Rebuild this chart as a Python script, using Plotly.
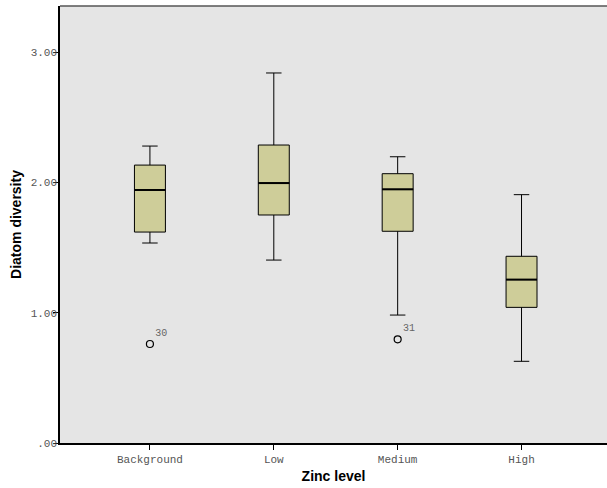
import plotly.graph_objects as go

categories = ["Background", "Low", "Medium", "High"]
q1 = [1.619, 1.750, 1.625, 1.041]
median = [1.942, 1.995, 1.947, 1.254]
q3 = [2.133, 2.287, 2.067, 1.433]
lower_whisker = [1.535, 1.404, 0.982, 0.627]
upper_whisker = [2.279, 2.840, 2.197, 1.906]

outlier_cats = ["Background", "Medium"]
outlier_vals = [0.760, 0.796]
outlier_labels = ["30", "31"]

ytick_vals = [0, 1, 2, 3]
ytick_text = [".00", "1.00", "2.00", "3.00"]

box_width = 0.25
xpos = list(range(len(categories)))
out_x = [categories.index(c) for c in outlier_cats]

fig = go.Figure()
fig.add_trace(go.Box(
    x=xpos, q1=q1, median=median, q3=q3,
    lowerfence=lower_whisker, upperfence=upper_whisker,
    fillcolor="#CECD99", line=dict(color="black", width=1),
    width=box_width, whiskerwidth=0.5, boxpoints=False, showlegend=False,
    hoverinfo="skip",
))
# thicker median lines
mx, my = [], []
for i, m in zip(xpos, median):
    mx += [i - box_width / 2, i + box_width / 2, None]
    my += [m, m, None]
fig.add_trace(go.Scatter(x=mx, y=my, mode="lines", line=dict(color="black", width=2),
                         showlegend=False, hoverinfo="skip"))
fig.add_trace(go.Scatter(
    x=out_x, y=outlier_vals, mode="markers+text",
    marker=dict(symbol="circle-open", size=7, color="black", line=dict(width=1.2)),
    text=outlier_labels, textposition="top right",
    textfont=dict(family="Liberation Mono", size=10, color="#666666"),
    showlegend=False, hoverinfo="skip",
))

fig.update_layout(
    width=607, height=488,
    margin=dict(l=60, r=0, t=6, b=45),
    paper_bgcolor="white", plot_bgcolor="#E5E5E5",
    xaxis=dict(
        tickvals=xpos, ticktext=categories,
        range=[-0.726, 3.69], showgrid=False, zeroline=False,
        showline=True, linecolor="black", linewidth=1.5,
        ticks="outside", ticklen=5, tickcolor="black",
        tickfont=dict(family="Liberation Mono", size=11, color="#555555"),
        title=dict(text="<b>Zinc level</b>", font=dict(family="Liberation Sans", size=14, color="black"), standoff=6),
        automargin=False,
    ),
    yaxis=dict(
        range=[0, 3.354], tickvals=ytick_vals, ticktext=ytick_text,
        showgrid=False, zeroline=False,
        showline=True, linecolor="black", linewidth=1.5,
        ticks="outside", ticklen=5, tickcolor="black", ticklabelstandoff=-6,
        tickfont=dict(family="Liberation Mono", size=11, color="#555555"),
        title=dict(text="<b>Diatom diversity</b>", font=dict(family="Liberation Sans", size=14, color="black"), standoff=6),
        automargin=False,
    ),
)
fig.add_shape(type="line", xref="paper", yref="paper", x0=0, x1=1, y0=1, y1=1,
              line=dict(color="#555555", width=1.5))
fig.write_html("out.html", config={"displayModeBar": False},
               post_script="document.body.style.margin='0';document.body.style.overflow='hidden';")
